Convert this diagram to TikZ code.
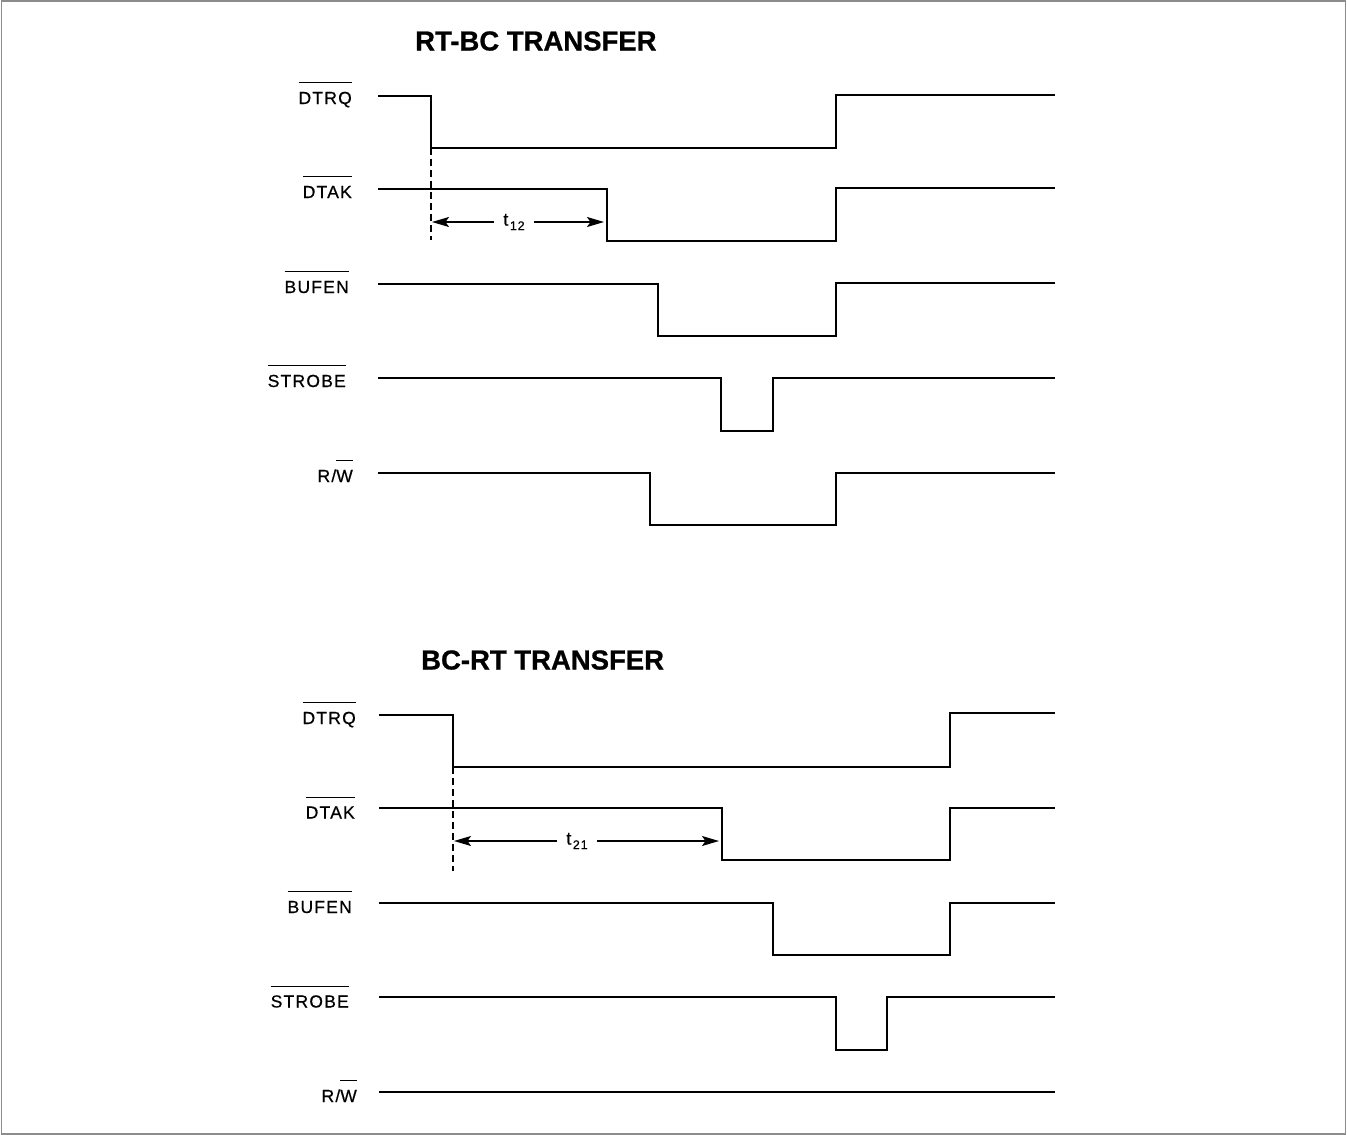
\documentclass[tikz,border=0pt]{standalone}
\usepackage{fontspec}
\setmainfont{Liberation Sans}
\newfontfamily\lblf{Liberation Sans}[LetterSpace=7,FakeBold=0.6]
\newfontfamily\ttlf{Liberation Sans}[FakeBold=0.8]
\usetikzlibrary{arrows.meta}
\newcommand\ovl[1]{\leavevmode\vbox{\hrule height 1.2pt\kern 8.5pt\hbox{#1}}}
\newcommand\tsub[1]{t\kern1.5pt\raisebox{-4.5pt}{\fontsize{12.5}{14}\selectfont #1}}
\tikzset{
  sig/.style={line width=2pt, line join=miter},
  lbl/.style={anchor=base east, inner sep=0pt, font=\lblf\fontsize{17.5}{20}\selectfont},
  ttl/.style={anchor=base west, inner sep=0pt, font=\ttlf\bfseries\fontsize{27.5}{30}\selectfont},
  dsh/.style={line width=2pt, dash pattern=on 7pt off 4pt},
  dim/.style={line width=1.6pt, -{Stealth[length=17pt,width=10pt,inset=3.5pt]}},
  tlab/.style={inner xsep=9pt, inner ysep=2pt, font=\lblf\fontsize{18}{20}\selectfont},
  frame/.style={draw=black!45, line width=1.6pt},
}
\begin{document}
\begin{tikzpicture}[x=1pt,y=-1pt]
\useasboundingbox (0,0) rectangle (1347,1135);
\draw[frame] (1.5,1.2) rectangle (1345.5,1134);

% ---------------- RT-BC TRANSFER ----------------
\node[ttl] (t1) at (415,50.5) {RT-BC TRANSFER};

\node[lbl] (a1) at (352,104) {\ovl{DTRQ}};
\node[lbl] (a2) at (352,198) {\ovl{DTAK}};
\node[lbl] (a3) at (349,293) {\ovl{BUFEN}};
\node[lbl] (a4) at (346,387) {\ovl{STROBE}};
\node[lbl] (a5) at (353,482) {R/\ovl{W}};

\draw[sig] (378,96) -- (431,96) -- (431,148) -- (836,148) -- (836,95) -- (1055,95);
\draw[sig] (378,189) -- (607,189) -- (607,241) -- (836,241) -- (836,188) -- (1055,188);
\draw[sig] (378,284) -- (658,284) -- (658,336) -- (836,336) -- (836,283) -- (1055,283);
\draw[sig] (378,378) -- (721,378) -- (721,431) -- (773,431) -- (773,378) -- (1055,378);
\draw[sig] (378,473) -- (650,473) -- (650,525) -- (836,525) -- (836,473) -- (1055,473);

\coordinate (d1a) at (431,148);
\coordinate (d1b) at (431,240);
\draw[dsh] (d1a) -- (d1b);
\coordinate (p1l) at (432,222);
\coordinate (p1r) at (604,222);
\node[tlab] (l1) at (514,222) {\tsub{12}};
\draw[dim] (l1.west) -- (p1l);
\draw[dim] (l1.east) -- (p1r);

% ---------------- BC-RT TRANSFER ----------------
\node[ttl] (t2) at (421,669.5) {BC-RT TRANSFER};

\node[lbl] (b1) at (356,724) {\ovl{DTRQ}};
\node[lbl] (b2) at (355,818.5) {\ovl{DTAK}};
\node[lbl] (b3) at (352,913) {\ovl{BUFEN}};
\node[lbl] (b4) at (349,1007.5) {\ovl{STROBE}};
\node[lbl] (b5) at (357,1102) {R/\ovl{W}};

\draw[sig] (379,715) -- (453,715) -- (453,767) -- (950,767) -- (950,713) -- (1055,713);
\draw[sig] (379,808) -- (722,808) -- (722,860) -- (950,860) -- (950,808) -- (1055,808);
\draw[sig] (379,903) -- (773,903) -- (773,955) -- (950,955) -- (950,903) -- (1055,903);
\draw[sig] (379,997) -- (836,997) -- (836,1050) -- (887,1050) -- (887,997) -- (1055,997);
\draw[sig] (379,1092) -- (1055,1092);

\coordinate (d2a) at (453,767);
\coordinate (d2b) at (453,871);
\draw[dsh] (d2a) -- (d2b);
\coordinate (p2l) at (454,841);
\coordinate (p2r) at (719,841);
\node[tlab] (l2) at (577,841) {\tsub{21}};
\draw[dim] (l2.west) -- (p2l);
\draw[dim] (l2.east) -- (p2r);
\end{tikzpicture}
\end{document}
